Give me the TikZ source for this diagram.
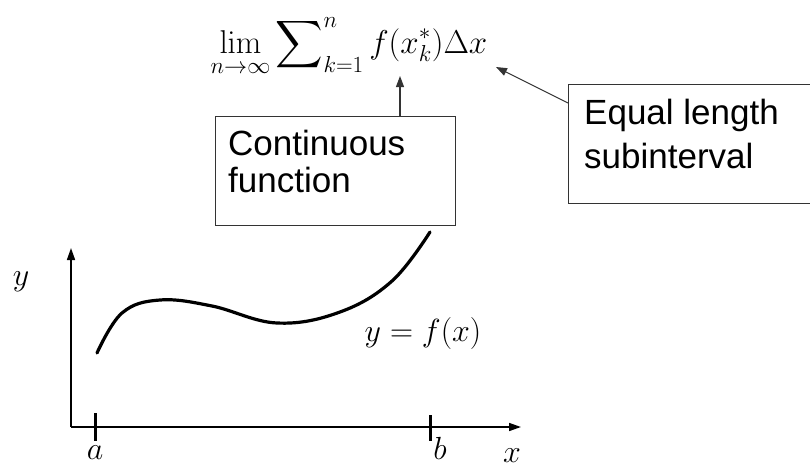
\RequirePackage{fix-cm}
\documentclass[tikz,border=0pt]{standalone}
\usepackage{amsmath,amssymb}
\usepackage[no-math]{fontspec}
\setmainfont{Liberation Sans}
\usetikzlibrary{arrows.meta,positioning}
\tikzset{
  caja/.style={draw=black!80, line width=1.3pt, fill=white, anchor=north west, inner sep=0pt},
  txt/.style={anchor=base west, inner sep=0pt, align=left},
  fl/.style={-{Triangle[length=11pt,width=8pt]}, line width=1.1pt, black!80},
  eje/.style={-{Triangle[length=12pt,width=8pt]}, line width=1.6pt},
  marca/.style={line width=3pt},
  curva/.style={line width=3.2pt, line cap=round},
  et/.style={font=\fontsize{32}{36}\selectfont, inner sep=0pt},
}
\begin{document}
\begin{tikzpicture}[x=1pt, y=-1pt]
  \useasboundingbox (0,0) rectangle (810,466);
  % formula
  \node[et, font=\fontsize{33}{36}\selectfont] (form) at (349,47)
    {$\displaystyle\lim_{n\to\infty}\sum\nolimits_{k=1}^{n} f(x_k^*)\Delta x$};
  \coordinate (pf) at (400,76);
  \coordinate (pdx) at (496,67);
  % boxes
  \node[caja, minimum width=240pt, minimum height=109pt] (cont) at (215,116) {};
  \node[txt, font=\fontsize{35}{37}\selectfont] (tcont) at (228,192) {Continuous\\function};
  \node[caja, minimum width=250pt, minimum height=119pt] (igual) at (568,84) {};
  \node[txt, font=\fontsize{35}{44}\selectfont] (tigual) at (584,168) {Equal length\\subinterval};
  \draw[fl] (cont.north -| pf) -- (pf);
  \draw[fl] (igual.west |- 0,103) -- (pdx);
  % axes
  \coordinate (o) at (71,427);
  \draw[eje] (o) -- (71,248);
  \draw[eje] (o) -- (521,427);
  \draw[marca] (95,413) -- (95,441);
  \draw[marca] (430,415) -- (430,441);
  \node[et, anchor=base] (ly) at (21,285) {$y$};
  \node[et, anchor=base] (la) at (95,459) {$a$};
  \node[et, anchor=base] (lb) at (440,459) {$b$};
  \node[et, anchor=base] (lx) at (512,462) {$x$};
  \node[et, anchor=base] (lf) at (423,341) {$y=f(x)$};
  % curve
  \draw[curva] plot[smooth, tension=0.65] coordinates
    {(97,353) (122,313) (160,300) (212,306) (277,323) (340,312) (392,281) (430,232)};
\end{tikzpicture}
\end{document}
